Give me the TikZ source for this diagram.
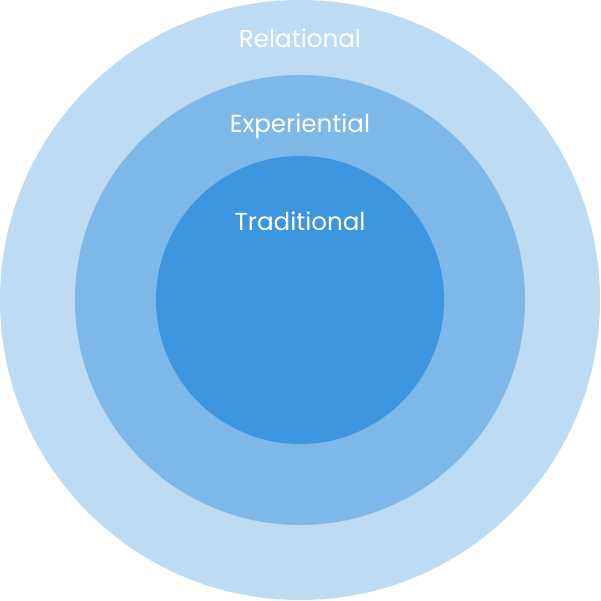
\documentclass[tikz,border=0pt]{standalone}
\usepackage{fontspec}
\setmainfont{Poppins}
\definecolor{ringouter}{HTML}{BDDBF2}
\definecolor{ringmid}{HTML}{7DB8E8}
\definecolor{ringinner}{HTML}{3C95DE}
\tikzset{
  ringlabel/.style={text=white, font=\fontsize{14}{17}\selectfont, anchor=base, inner sep=0pt}
}
\begin{document}
\begin{tikzpicture}
\def\cx{6}
\def\cy{6.02}

%% Bounding box: 600x601 px at 0.02 cm per px
\useasboundingbox (0,0) rectangle (12,12.02);

%% Rings (outer to inner)
\fill[ringouter] (\cx,\cy) circle (6);
\fill[ringmid]   (\cx,\cy) circle (4.5);
\fill[ringinner] (\cx,\cy) circle (2.88);

%% Labels
\node[ringlabel] (relational)   at (\cx,11.06) {Relational};
\node[ringlabel] (experiential) at (\cx,9.36)  {Experiential};
\node[ringlabel] (traditional)  at (\cx,7.40)  {Traditional};

\end{tikzpicture}
\end{document}
